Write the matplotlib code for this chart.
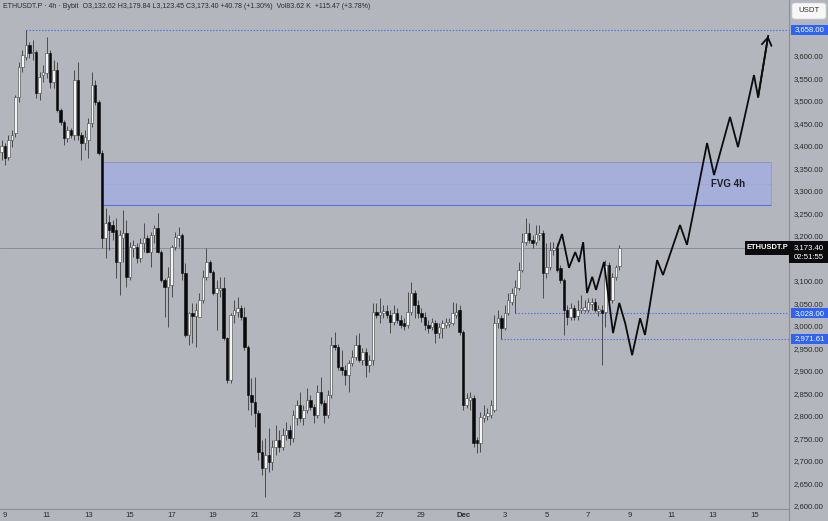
import matplotlib
matplotlib.use("Agg")
import matplotlib.pyplot as plt
import matplotlib.transforms as mtransforms
from matplotlib.patches import Rectangle, FancyBboxPatch
from matplotlib.lines import Line2D

plt.rcParams['font.family'] = ['Liberation Sans', 'DejaVu Sans']

# ---------------- data (4h candles, ETHUSDT.P, from Nov 8 20:00) ----------------
opens = [3386, 3400, 3375, 3413, 3428, 3508, 3575, 3597, 3624, 3606,
         3608, 3517, 3557, 3562, 3606, 3542, 3568, 3479, 3453, 3417,
         3435, 3424, 3546, 3424, 3406, 3413, 3451, 3535, 3497, 3384,
         3195, 3231, 3224, 3213, 3142, 3195, 3206, 3109, 3173, 3175,
         3151, 3184, 3195, 3164, 3202, 3217, 3164, 3102, 3086, 3091,
         3175, 3195, 3202, 3117, 2980, 3029, 3022, 3020, 3057, 3109,
         3142, 3120, 3073, 3080, 3084, 2973, 2880, 3024, 3031, 3040,
         3020, 2953, 2846, 2831, 2807, 2720, 2684, 2713, 2698, 2731,
         2747, 2731, 2758, 2769, 2751, 2795, 2824, 2795, 2813, 2835,
         2820, 2802, 2853, 2829, 2802, 2846, 2958, 2953, 2909, 2902,
         2891, 2918, 2931, 2958, 2924, 2942, 2913, 2924, 3031, 3024,
         3029, 3033, 3024, 3009, 3029, 3013, 3006, 3002, 3031, 3073,
         3046, 3029, 3020, 3002, 2998, 3006, 2984, 2995, 3002, 3004,
         3006, 3024, 3035, 2986, 2824, 2835, 2840, 2747, 2740, 2795,
         2800, 2802, 2813, 3006, 3018, 2995, 3029, 3053, 3069, 3084,
         3124, 3186, 3206, 3191, 3186, 3202, 3206, 3117, 3131, 3168,
         3173, 3129, 3102, 3035, 3020, 3040, 3022, 3035, 3035, 3035,
         3049, 3053, 3033, 3035, 3031, 3135, 3057, 3109, 3132.62]
highs = [3413, 3406, 3424, 3435, 3513, 3586, 3613, 3658, 3630, 3635,
         3613, 3564, 3579, 3641, 3613, 3590, 3586, 3484, 3457, 3444,
         3439, 3568, 3586, 3431, 3435, 3462, 3564, 3546, 3502, 3391,
         3262, 3246, 3235, 3240, 3213, 3257, 3235, 3186, 3191, 3184,
         3195, 3228, 3202, 3208, 3224, 3251, 3169, 3106, 3131, 3180,
         3208, 3220, 3206, 3140, 3031, 3051, 3051, 3073, 3124, 3173,
         3146, 3124, 3102, 3109, 3109, 2975, 3029, 3057, 3064, 3046,
         3042, 2958, 2884, 2886, 2813, 2747, 2751, 2773, 2747, 2780,
         2769, 2773, 2787, 2780, 2813, 2835, 2853, 2824, 2862, 2846,
         2826, 2869, 2886, 2835, 2858, 2975, 2986, 2960, 2946, 2913,
         2924, 2946, 2980, 2984, 2951, 2951, 2935, 3051, 3051, 3062,
         3046, 3046, 3035, 3046, 3040, 3024, 3018, 3075, 3097, 3080,
         3057, 3040, 3031, 3013, 3018, 3013, 3006, 3013, 3018, 3018,
         3053, 3051, 3046, 2991, 2851, 2853, 2846, 2753, 2809, 2824,
         2818, 2835, 3024, 3035, 3024, 3046, 3073, 3084, 3102, 3142,
         3206, 3240, 3228, 3202, 3224, 3224, 3213, 3184, 3186, 3186,
         3184, 3135, 3106, 3046, 3051, 3046, 3057, 3069, 3057, 3062,
         3062, 3062, 3046, 3046, 3146, 3142, 3117, 3135, 3179.84]
lows = [3368, 3357, 3368, 3397, 3420, 3497, 3564, 3590, 3595, 3590,
        3506, 3502, 3542, 3550, 3528, 3528, 3475, 3446, 3402, 3408,
        3417, 3413, 3413, 3368, 3391, 3373, 3442, 3490, 3380, 3173,
        3151, 3169, 3191, 3106, 3069, 3142, 3086, 3102, 3153, 3140,
        3142, 3164, 3162, 3131, 3184, 3162, 3097, 3020, 2998, 3064,
        3169, 3175, 3102, 2975, 2958, 2962, 2953, 3020, 3051, 3102,
        3117, 3069, 2991, 3064, 2969, 2873, 2873, 3006, 3020, 3013,
        2946, 2813, 2802, 2775, 2702, 2669, 2620, 2676, 2680, 2713,
        2720, 2724, 2747, 2735, 2742, 2780, 2787, 2780, 2806, 2813,
        2784, 2795, 2824, 2784, 2795, 2840, 2946, 2902, 2891, 2869,
        2853, 2911, 2924, 2920, 2913, 2886, 2898, 2913, 3018, 3006,
        3018, 3018, 2984, 3002, 3006, 2995, 2991, 2995, 3024, 3018,
        3018, 3009, 2991, 2984, 2991, 2962, 2973, 2973, 2995, 2998,
        3002, 3018, 2980, 2813, 2818, 2813, 2731, 2718, 2720, 2787,
        2791, 2795, 2809, 2995, 2971.61, 2991, 3024, 3046, 3028, 3080,
        3120, 3180, 3184, 3173, 3180, 3191, 3062, 3106, 3124, 3157,
        3120, 3095, 2980, 3002, 3013, 3013, 3013, 3029, 3031, 3031,
        3035, 3031, 3022, 2913, 2998, 3046, 3051, 3102, 3123.45]
closes = [3400, 3373, 3413, 3424, 3508, 3575, 3602, 3624, 3606, 3608,
          3517, 3553, 3564, 3606, 3542, 3568, 3479, 3453, 3417, 3435,
          3424, 3546, 3424, 3406, 3420, 3451, 3535, 3497, 3384, 3195,
          3228, 3213, 3208, 3142, 3202, 3206, 3109, 3175, 3180, 3151,
          3184, 3195, 3164, 3202, 3217, 3164, 3102, 3086, 3109, 3175,
          3197, 3202, 3117, 2980, 3029, 3022, 3035, 3057, 3109, 3142,
          3120, 3073, 3084, 3084, 2973, 2880, 3024, 3035, 3040, 3020,
          2953, 2846, 2831, 2807, 2720, 2684, 2713, 2698, 2731, 2747,
          2731, 2758, 2769, 2751, 2802, 2824, 2795, 2813, 2835, 2820,
          2802, 2853, 2829, 2802, 2846, 2958, 2953, 2909, 2902, 2891,
          2918, 2931, 2958, 2924, 2942, 2913, 2924, 3031, 3024, 3031,
          3033, 3024, 3009, 3029, 3013, 3002, 3000, 3031, 3073, 3046,
          3029, 3020, 3002, 2995, 3009, 2984, 2998, 3006, 3009, 3009,
          3029, 3031, 2986, 2824, 2840, 2842, 2740, 2740, 2798, 2802,
          2807, 2824, 3006, 3018, 2995, 3029, 3057, 3073, 3086, 3124,
          3186, 3206, 3191, 3184, 3204, 3206, 3117, 3131, 3168, 3173,
          3124, 3102, 3035, 3020, 3040, 3020, 3035, 3040, 3042, 3053,
          3053, 3035, 3038, 3029, 3135, 3057, 3109, 3131, 3173.40]

# time axis: day labels (days after Nov 9, 6 bars per day, Nov 9 00:00 = bar 1)
day_offsets = [0, 2, 4, 6, 8, 10, 12, 14, 16, 18, 20, 22, 24, 26, 28, 30, 32, 34, 36]
day_labels = ['9', '11', '13', '15', '17', '19', '21', '23', '25', '27', '29',
              'Dec', '3', '5', '7', '9', '11', '13', '15']

# projected path (bar position, price)
proj_t = [160.1, 161.5, 163.5, 165.3, 166.4, 167.6, 168.7, 170.2, 171.3, 173.6,
          176.2, 178.0, 179.7, 181.7, 184.0, 185.4, 188.9, 190.6, 195.5, 197.5,
          203.3, 205.3, 209.9, 212.2, 216.8, 218.0, 220.9]
proj_p = [3173, 3204, 3129, 3164, 3142, 3186, 3073, 3109, 3080, 3142,
          2984, 3051, 3006, 2935, 3017, 2980, 3146, 3113, 3224, 3180,
          3406, 3335, 3464, 3397, 3557, 3508, 3644]

fvg_top, fvg_mid, fvg_bottom = 3364, 3316, 3268
fvg_start_bar = 28.7
level_high, level_high_bar = 3658.00, 7.0
level_a, level_a_bar = 3028.00, 148.0
level_b, level_b_bar = 2971.61, 144.0
last_price = 3173.40
countdown = '02:51:55'
header = ('ETHUSDT.P \u00b7 4h \u00b7 Bybit  O3,132.62 H3,179.84 L3,123.45 C3,173.40 '
          '+40.78 (+1.30%)  Vol83.62 K  +115.47 (+3.78%)')
price_ticks = [2600, 2650, 2700, 2750, 2800, 2850, 2900, 2950, 3000, 3050, 3100,
               3200, 3250, 3300, 3350, 3400, 3450, 3500, 3550, 3600]

# ---------------- drawing ----------------
BG = '#b3b6bd'
W, H = 829, 521
fig = plt.figure(figsize=(W / 100, H / 100), dpi=100)
fig.patch.set_facecolor(BG)
ax = fig.add_axes([0, (H - 509) / H, 789 / W, 509 / H])
ax.set_facecolor(BG)

ax.set_xlim(-0.44, 226.9)
ax.set_ylim(2593.4, 3723.7)

n = len(closes)
xs = list(range(n))
for x, o, h, l, c in zip(xs, opens, highs, lows, closes):
    up = c >= o
    ax.vlines(x, l, h, color='#3a3a3a', lw=0.6, zorder=3)
    bottom = min(o, c)
    height = max(abs(c - o), 2.0)
    ax.bar(x, height, bottom=bottom, width=0.72,
           color='#f4f4f4' if up else '#0a0a0a',
           edgecolor='#404040' if up else '#0a0a0a', lw=0.4, zorder=4)

# FVG zone
ax.add_patch(Rectangle((fvg_start_bar, fvg_bottom), 221.8 - fvg_start_bar, fvg_top - fvg_bottom,
                       facecolor='#a5afd9', edgecolor='none', zorder=1))
ax.hlines(fvg_top, fvg_start_bar, 221.8, color='#8790bd', lw=0.6, zorder=2)
ax.hlines(fvg_bottom, fvg_start_bar, 221.8, color='#5f70e0', lw=0.8, zorder=2)
ax.vlines([fvg_start_bar, 221.8], fvg_bottom, fvg_top, color='#8e97c8', lw=0.5, zorder=2)
ax.hlines(fvg_mid, fvg_start_bar, 221.8, color='#9098c4', lw=0.5,
          linestyles=(0, (1, 2)), zorder=2)
ax.text(209.4, fvg_mid, 'FVG 4h', fontsize=7, fontweight='bold', color='#1e1e24',
        ha='center', va='center', zorder=6)

# current price line
ax.axhline(last_price, color='#85888f', lw=0.6, zorder=2)

# dotted levels
dot = (0, (1.2, 1.6))
ax.hlines(level_high, level_high_bar, 226.9, color='#4b6cf0', lw=0.8, linestyles=dot, zorder=2)
ax.hlines(level_a, level_a_bar, 226.9, color='#4b6cf0', lw=0.8, linestyles=dot, zorder=2)
ax.hlines(level_b, level_b_bar, 226.9, color='#4b6cf0', lw=0.8, linestyles=dot, zorder=2)

# projection path with arrow head
ax.plot(proj_t, proj_p, color='#0c0c0c', lw=1.3, zorder=7, solid_joinstyle='miter')
ax.annotate('', xy=(proj_t[-1], proj_p[-1]), xytext=(proj_t[-2], proj_p[-2]),
            arrowprops=dict(arrowstyle='->,head_length=0.55,head_width=0.35',
                            color='#0c0c0c', lw=1.3, shrinkA=0, shrinkB=0),
            zorder=7)

# axes styling
for s in ['top', 'left']:
    ax.spines[s].set_visible(False)
for s in ['right', 'bottom']:
    ax.spines[s].set_color('#8c8f97')
    ax.spines[s].set_linewidth(0.8)

ax.yaxis.tick_right()
ax.set_yticks(price_ticks)
ax.set_yticklabels([f'{v:,.2f}' for v in price_ticks])
ax.tick_params(axis='y', length=0, pad=3.6, labelsize=5.6, labelcolor='#2c2c2c')

ax.set_xticks([1 + 6 * d for d in day_offsets])
ax.set_xticklabels(day_labels)
ax.tick_params(axis='x', length=0, pad=2.5, labelsize=5.6, labelcolor='#2c2c2c')
for lab in ax.get_xticklabels():
    if lab.get_text() == 'Dec':
        lab.set_fontweight('bold')

# right separator extension
fig.add_artist(Line2D([789 / W, 789 / W], [0, (H - 509) / H], transform=fig.transFigure,
                      color='#8c8f97', lw=0.8))

# price labels on the scale
trans = mtransforms.blended_transform_factory(ax.transAxes, ax.transData)
ppx = (3723.7 - 2593.4) / 509.0  # price per pixel


def px(v):
    return v / 789.0


def scale_box(price, text, fc, tc='white', x0=791, x1=828, hpx=10):
    ax.add_patch(Rectangle((px(x0), price - hpx / 2 * ppx), px(x1 - x0), hpx * ppx,
                           transform=trans, facecolor=fc, edgecolor='none',
                           clip_on=False, zorder=10))
    ax.text(px((x0 + x1) / 2), price, text, transform=trans, fontsize=5.6, color=tc,
            ha='center', va='center', clip_on=False, zorder=11)


scale_box(level_high, f'{level_high:,.2f}', '#2f63f5')
scale_box(level_a, f'{level_a:,.2f}', '#2f63f5')
scale_box(level_b, f'{level_b:,.2f}', '#2f63f5')

# last price box with countdown
ax.add_patch(Rectangle((px(789), last_price - 15 * ppx), px(40), 22 * ppx, transform=trans,
                       facecolor='#0b0b0b', edgecolor='none', clip_on=False, zorder=10))
ax.text(px(809), last_price, f'{last_price:,.2f}', transform=trans, fontsize=5.6,
        color='white', ha='center', va='center', clip_on=False, zorder=11)
ax.text(px(809), last_price - 9.5 * ppx, countdown, transform=trans, fontsize=5.6,
        color='white', ha='center', va='center', clip_on=False, zorder=11)
ax.add_patch(Rectangle((px(745), last_price - 7 * ppx), px(44), 14 * ppx, transform=trans,
                       facecolor='#0b0b0b', edgecolor='none', clip_on=False, zorder=10))
ax.text(px(767), last_price, 'ETHUSDT.P', transform=trans, fontsize=5.4, fontweight='bold',
        color='white', ha='center', va='center', clip_on=False, zorder=11)

# currency box
fig.add_artist(FancyBboxPatch((792 / W, 1 - 19 / H), 34 / W, 16 / H,
                              boxstyle='round,pad=0,rounding_size=0.004',
                              transform=fig.transFigure, facecolor='#f7f7f8',
                              edgecolor='#d0d2d6', lw=0.5))
fig.text(809 / W, 1 - 11 / H, 'USDT', fontsize=5.6, color='#333333', ha='center', va='center')

# header
fig.text(3 / W, 1 - 6.5 / H, header, fontsize=5.0, color='#2a2a2a', ha='left', va='center')

fig.savefig('out.png', dpi=100, facecolor=BG)
